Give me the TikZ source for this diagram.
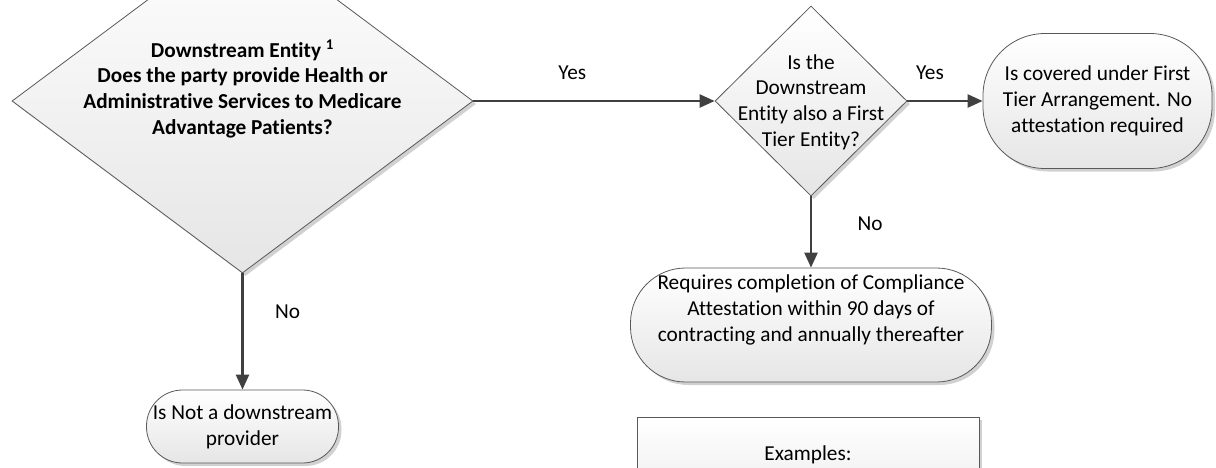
\documentclass[tikz,border=0pt]{standalone}
\usepackage{fontspec}
\setmainfont{Carlito}[Ligatures=NoCommon]
\usetikzlibrary{shapes.geometric, arrows.meta, shadows}

\begin{document}
\begin{tikzpicture}[x=1pt, y=-1pt,
    every node/.style={font=\fontsize{21.3}{25.7}\selectfont},
    box/.style={draw=black!65, line width=0.8pt, top color=white, bottom color=black!10,
        drop shadow={shadow xshift=3pt, shadow yshift=-3pt, fill=black!18, opacity=1}},
    decision/.style={box, diamond, inner sep=0pt},
    endbox/.style={box, rounded corners=#1, align=center, inner sep=0pt},
    flow/.style={line width=2.4pt, draw=black!75, -{Triangle[length=15pt, width=13pt]}}]
    \useasboundingbox (0,0) rectangle (1216,467);
    \clip (0,0) rectangle (1216,467);

    % Downstream entity question
    \node[decision, minimum width=461pt, minimum height=344pt] (q1) at (242.5,101) {};
    \node[font=\fontsize{21.3}{25.7}\selectfont\bfseries, align=center] (q1text) at (242.5,89)
        {Downstream Entity \textsuperscript{1}\\Does the party provide Health or\\Administrative Services to Medicare\\Advantage Patients?};

    % First tier question
    \node[decision, minimum width=192pt, minimum height=190pt] (q2) at (811,101) {};
    \node[align=center] (q2text) at (811,102) {Is the\\Downstream\\Entity also a First\\Tier Entity?};

    % Outcomes
    \node[endbox=62pt, minimum width=229pt, minimum height=135pt] (r1) at (1097.5,101)
        {Is covered under First\\Tier Arrangement. No\\attestation required};
    \node[endbox=55pt, minimum width=361pt, minimum height=114pt] (r2) at (811,325)
        {Requires completion of Compliance\\Attestation within 90 days of\\contracting and annually thereafter\\\strut};
    \node[endbox=36pt, minimum width=192pt, minimum height=73pt] (r3) at (242.5,426.5)
        {Is Not a downstream\\provider};

    % Examples
    \node[box, minimum width=342pt, minimum height=120pt, anchor=north] (ex) at (808,417) {};
    \node (extext) at (808,455) {Examples:};

    % Arrows
    \draw[flow] (q1.east) -- node[pos=0.41, yshift=28pt] (yes1) {Yes} (q2.west);
    \draw[flow] (q2.east) -- node[pos=0.3, yshift=28pt] (yes2) {Yes} (r1.west);
    \draw[flow] (q2.south) -- node[pos=0.39, xshift=59pt] (no2) {No} (r2.north);
    \draw[flow] (q1.south) -- node[pos=0.33, xshift=45pt] (no1) {No} (r3.north);
\end{tikzpicture}
\end{document}
